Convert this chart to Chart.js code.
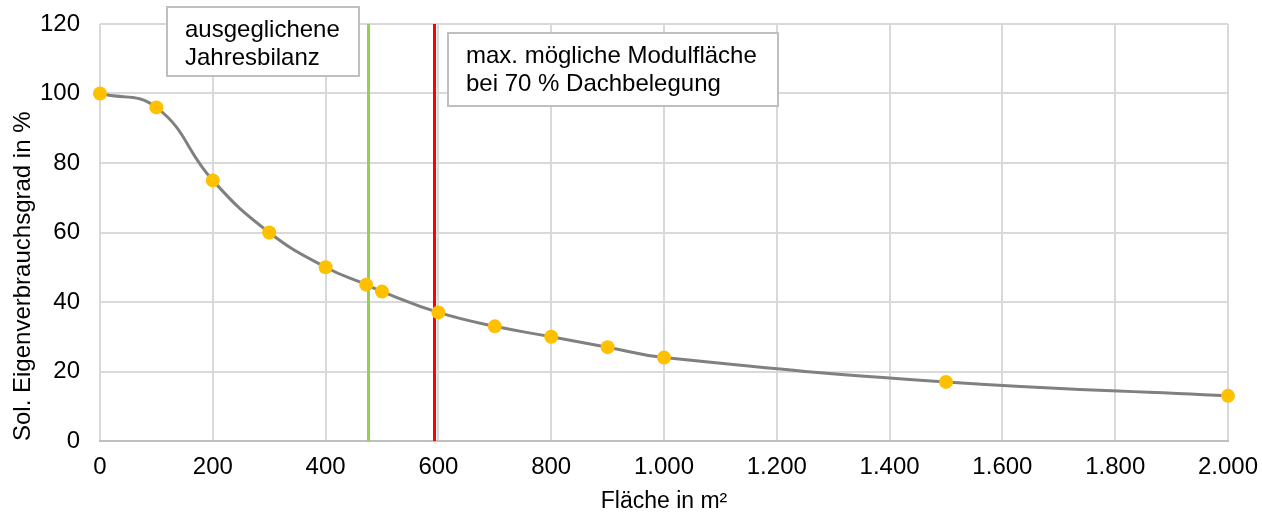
<!DOCTYPE html>
<html><head><meta charset="utf-8">
<script src="https://cdn.jsdelivr.net/npm/chart.js@4/dist/chart.umd.min.js"></script>
<style>html,body{margin:0;padding:0;background:#fff}#wrap{width:1262px;height:516px}</style>
</head><body><div id="wrap"><canvas id="c" width="1262" height="516"></canvas></div>
<script>
const flaeche = [0, 100, 200, 300, 400, 472, 500, 600, 700, 800, 900, 1000, 1500, 2000];
const eigenverbrauch = [100, 96, 75, 60, 50, 45, 43, 37, 33, 30, 27, 24, 17, 13];
const markerLines = [{x: 475, color: '#92D050'}, {x: 592, color: '#FF0000'}];
const boxTexts = [["ausgeglichene", "Jahresbilanz"], ["max. mögliche Modulfläche", "bei 70 % Dachbelegung"]];
const xTicks = [0,200,400,600,800,1000,1200,1400,1600,1800,2000];

const FONT = 'Liberation Sans, Arial, sans-serif';
const fmt = v => v.toLocaleString('de-DE');

const overlay = {
  id: 'overlay',
  beforeDatasetsDraw(chart) {
    const {ctx, chartArea: a, scales: {x}} = chart;
    ctx.save();
    markerLines.forEach(m => {
      const px = Math.round(x.getPixelForValue(m.x)) + 0.5;
      ctx.strokeStyle = m.color; ctx.lineWidth = 3;
      ctx.beginPath(); ctx.moveTo(px, a.top); ctx.lineTo(px, a.bottom); ctx.stroke();
    });
    ctx.restore();
  },
  afterDraw(chart) {
    const {ctx} = chart;
    const boxes = [{l:167,t:7,w:192,h:69},{l:448,t:33,w:330,h:73}];
    ctx.save();
    ctx.font = '24px ' + FONT;
    boxes.forEach((b, i) => {
      ctx.fillStyle = '#fff'; ctx.fillRect(b.l, b.t, b.w, b.h);
      ctx.strokeStyle = '#BFBFBF'; ctx.lineWidth = 2; ctx.strokeRect(b.l, b.t, b.w, b.h);
      ctx.fillStyle = '#000'; ctx.textBaseline = 'middle'; ctx.textAlign = 'left';
      boxTexts[i].forEach((line, j) => ctx.fillText(line, b.l + 18, b.t + 23 + j * 28));
    });
    ctx.restore();
  }
};

new Chart(document.getElementById('c'), {
  type: 'scatter',
  data: {
    datasets: [{
      data: flaeche.map((v, i) => ({x: v, y: eigenverbrauch[i]})),
      showLine: true,
      clip: false,
      borderColor: '#808080',
      borderWidth: 3,
      tension: 0.45,
      pointRadius: 7,
      pointHoverRadius: 7,
      pointBackgroundColor: '#FFC000',
      pointBorderColor: '#FFC000',
      pointBorderWidth: 0
    }]
  },
  options: {
    responsive: false,
    animation: false,
    layout: {padding: {top: 24, right: 34, left: 0, bottom: 0}},
    plugins: {legend: {display: false}, tooltip: {enabled: false}},
    scales: {
      x: {
        type: 'linear', min: 0, max: 2000,
        afterBuildTicks: s => { s.ticks = xTicks.map(v => ({value: v})); },
        ticks: {callback: v => fmt(v), color: '#000', font: {family: FONT, size: 24}, padding: 12, maxRotation: 0},
        grid: {color: '#D9D9D9', lineWidth: 2, drawTicks: false},
        border: {color: '#BFBFBF', width: 2},
        afterFit: s => { s.height = 75; s.paddingLeft = 0; s.paddingRight = 0; },
        title: {display: true, text: 'Fläche in m²', color: '#000', font: {family: FONT, size: 23}, padding: {top: 4, bottom: 1}}
      },
      y: {
        min: 0, max: 120,
        ticks: {stepSize: 20, color: '#000', font: {family: FONT, size: 24}, padding: 20},
        grid: {color: '#D9D9D9', lineWidth: 2, drawTicks: false},
        border: {display: false},
        afterFit: s => { s.width = 100; s.paddingTop = 0; s.paddingBottom = 0; },
        title: {display: true, align: 'start', text: 'Sol. Eigenverbrauchsgrad in %', color: '#000', font: {family: FONT, size: 24}, padding: {top: 9, bottom: 0}}
      }
    }
  },
  plugins: [overlay]
});
</script></body></html>
